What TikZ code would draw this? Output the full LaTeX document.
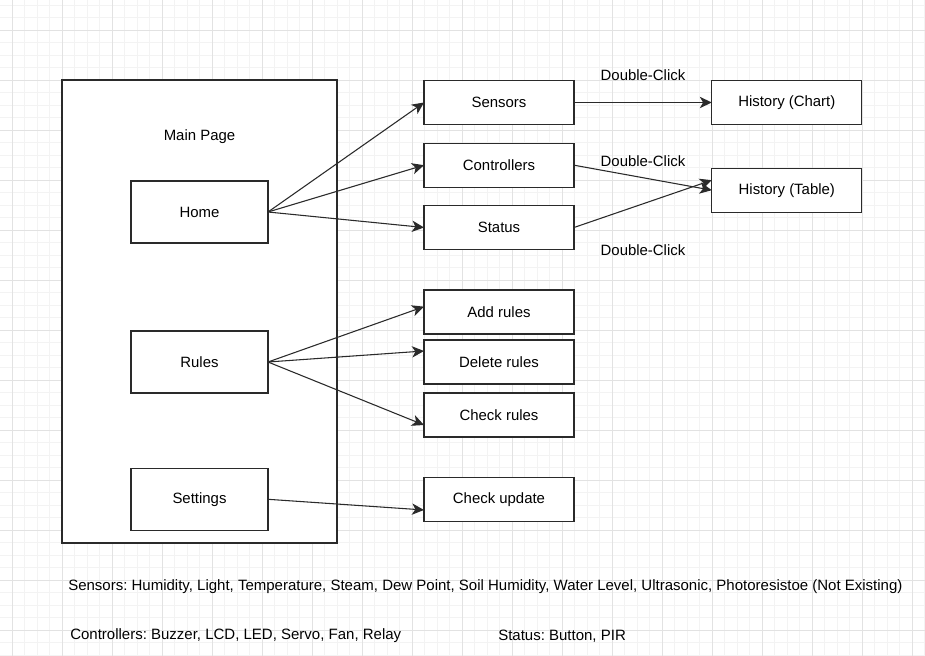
\documentclass[tikz,border=0pt]{standalone}
\usepackage{fontspec}
\setmainfont{Liberation Sans}
\usetikzlibrary{arrows.meta}
\definecolor{gridminor}{HTML}{F3F3F3}
\definecolor{gridmajor}{HTML}{E2E2E2}
\definecolor{ink}{HTML}{2A2A2A}
\frenchspacing
\tikzset{
  box/.style={draw=ink, line width=0.8pt, fill=white, inner sep=0pt, outer sep=0pt, font=\fontsize{11.2pt}{13pt}\selectfont},
  wide/.style={box, minimum width=112.5pt, minimum height=33pt},
  page/.style={box, minimum width=102.75pt, minimum height=46.5pt},
  link/.style={draw=ink, line width=0.8pt, -{Stealth[length=9pt, width=8.5pt, inset=2.5pt]}},
  lbl/.style={inner sep=0pt, font=\fontsize{11.2pt}{13pt}\selectfont},
  note/.style={inner sep=0pt, anchor=west, font=\fontsize{11.25pt}{13pt}\selectfont}
}
\begin{document}
\begin{tikzpicture}[x=0.75pt, y=-0.75pt]
\useasboundingbox (0,0) rectangle (925,656);
\fill[white] (0,0) rectangle (925,656);
\foreach \x in {-0.5,12,...,925} \draw[gridminor, line width=0.6pt] (\x,0) -- (\x,656);
\foreach \y in {5,17.5,...,656} \draw[gridminor, line width=0.6pt] (0,\y) -- (925,\y);
\foreach \x in {12,62,...,925} \draw[gridmajor, line width=0.6pt] (\x,0) -- (\x,656);
\foreach \y in {30,80,...,656} \draw[gridmajor, line width=0.6pt] (0,\y) -- (925,\y);

\node[box, minimum width=206.25pt, minimum height=347.25pt] (main) at (199.5,311.5) {};
\node[lbl] (maintitle) at (199.5,137) {Main Page};
\node[page] (home) at (199.5,212) {Home};
\node[page] (rules) at (199.5,362) {Rules};
\node[page] (settings) at (199.5,499.3) {Settings};

\node[wide] (sensors) at (499,102.5) {Sensors};
\node[wide] (controllers) at (499,165.2) {Controllers};
\node[wide] (status) at (499,227.5) {Status};
\node[wide] (chart) at (786.8,102.5) {History (Chart)};
\node[wide] (table) at (786.8,190.2) {History (Table)};
\node[wide] (addr) at (499,312) {Add rules};
\node[wide] (delr) at (499,362) {Delete rules};
\node[wide] (chkr) at (499,415) {Check rules};
\node[wide] (upd) at (499,499.3) {Check update};

\draw[link] (home.east) -- (sensors.west);
\draw[link] (home.east) -- (controllers.west);
\draw[link] (home.east) -- (status.west);
\draw[link] (rules.east) -- ([yshift=4pt]addr.west);
\draw[link] (rules.east) -- ([yshift=8.25pt]delr.west);
\draw[link] (rules.east) -- ([yshift=-7.5pt]chkr.west);
\draw[link] (settings.east) -- ([yshift=-8pt]upd.west);
\draw[link] (sensors.east) -- (chart.west);
\draw[link] (controllers.east) -- (table.west);
\draw[link] (status.east) -- ([yshift=7.5pt]table.west);

\node[lbl] (dc1) at (643,75) {Double-Click};
\node[lbl] (dc2) at (643,161.5) {Double-Click};
\node[lbl] (dc3) at (643,250) {Double-Click};

\node[note] (n1) at (68,587) {Sensors: Humidity, Light, Temperature, Steam, Dew Point, Soil Humidity, Water Level, Ultrasonic, Photoresistoe (Not Existing)};
\node[note] (n2) at (70,636) {Controllers: Buzzer, LCD, LED, Servo, Fan, Relay};
\node[note] (n3) at (498,636) {Status: Button, PIR};
\end{tikzpicture}
\end{document}
